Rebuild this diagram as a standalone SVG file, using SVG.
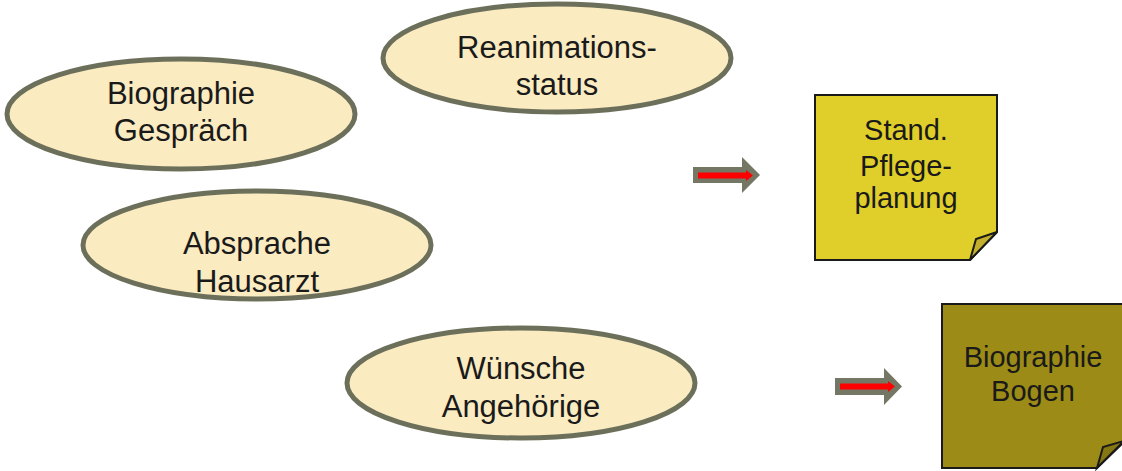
<svg xmlns="http://www.w3.org/2000/svg" width="1122" height="471" viewBox="0 0 1122 471">
<style>
.ell{fill:#FBEBC1;stroke:#6C705B;stroke-width:5}
.t{font-family:"Liberation Sans",Arial,sans-serif;font-size:31px;fill:#1a1a1a;text-anchor:middle}
.tn{font-family:"Liberation Sans",Arial,sans-serif;font-size:29px;fill:#1a1a1a;text-anchor:middle}
.note{stroke:#1a1a1a;stroke-width:2}
.arrowbody{fill:#737764}
.red{fill:#FF0000}
</style>
<rect width="1122" height="471" fill="#ffffff"/>
<g id="n-biographie-gespraech">
<ellipse class="ell" cx="181" cy="114" rx="174" ry="55"/>
<text class="t" x="181" y="104">Biographie</text>
<text class="t" x="181" y="141">Gespräch</text>
</g>
<g id="n-reanimationsstatus">
<ellipse class="ell" cx="557" cy="58" rx="174" ry="54"/>
<text class="t" x="557" y="58">Reanimations-</text>
<text class="t" x="557" y="95">status</text>
</g>
<g id="n-absprache-hausarzt">
<ellipse class="ell" cx="257" cy="245" rx="174" ry="54"/>
<text class="t" x="257" y="254">Absprache</text>
<text class="t" x="257" y="292">Hausarzt</text>
</g>
<g id="n-wuensche-angehoerige">
<ellipse class="ell" cx="521" cy="383" rx="174" ry="55"/>
<text class="t" x="521" y="379">Wünsche</text>
<text class="t" x="521" y="417">Angehörige</text>
</g>
<g id="n-pflegeplanung">
<path class="note" d="M815,95 H997 V232 L970,260 H815 Z" fill="#E0CE2A"/>
<path class="note" d="M970,260 L976,239 L997,232 Z" fill="#C2AF2B" stroke-width="1.5"/>
<text class="tn" x="906" y="140">Stand.</text>
<text class="tn" x="906" y="176">Pflege-</text>
<text class="tn" x="906" y="208">planung</text>
</g>
<g id="n-biographie-bogen">
<path class="note" d="M942,304 H1124 V442 L1097,468 H942 Z" fill="#9C8C17"/>
<path class="note" d="M1097,468 L1103,447 L1124,441 Z" fill="#857812" stroke-width="1.5"/>
<text class="tn" x="1033" y="367">Biographie</text>
<text class="tn" x="1033" y="401">Bogen</text>
</g>
<g id="connectors">
<g id="arrow1">
<path class="arrowbody" d="M693,167 H742 V157 L760,175 L742,193 V183 H693 Z"/>
<path class="red" d="M698,172.5 H746 V170 L753,175.5 L746,181 V178.5 H698 Z"/>
</g>
<g id="arrow2">
<path class="arrowbody" d="M835,378 H884 V368 L902,386.5 L884,405 V395 H835 Z"/>
<path class="red" d="M840,383.5 H888 V381 L895,386.5 L888,392 V389.5 H840 Z"/>
</g>
</g>
</svg>
